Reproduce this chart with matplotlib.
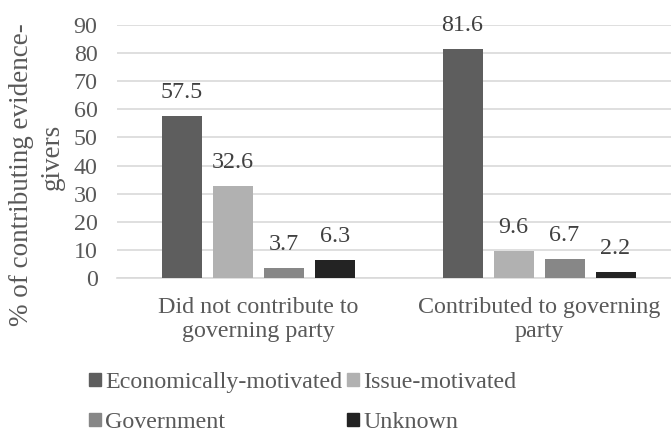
import matplotlib
matplotlib.use("Agg")
import matplotlib.pyplot as plt
from matplotlib.patches import Patch
import numpy as np

categories = ["Did not contribute to\ngoverning party", "Contributed to governing\nparty"]
series_names = ["Economically-motivated", "Issue-motivated", "Government", "Unknown"]
economic = [57.5, 81.6]
issue = [32.6, 9.6]
government = [3.7, 6.7]
unknown = [6.3, 2.2]
yticks = [0, 10, 20, 30, 40, 50, 60, 70, 80, 90]

colors = ["#5e5e5e", "#b1b1b1", "#878787", "#232323"]
text_color = "#595959"

plt.rcParams["font.family"] = ["Liberation Serif", "DejaVu Serif"]
FS = 17.3

W, H = 671, 434
fig = plt.figure(figsize=(W / 100, H / 100), dpi=100)
left, right = 117, 671
top, bottom = 25, 278
ax = fig.add_axes([left / W, 1 - bottom / H, (right - left) / W, (bottom - top) / H])

spacing_px = 280.5
x = np.arange(len(categories))
width = 40 / spacing_px
step = 51 / spacing_px
all_series = [economic, issue, government, unknown]
for i, (vals, name, c) in enumerate(zip(all_series, series_names, colors)):
    pos = x + (i - 1.5) * step
    ax.bar(pos, vals, width=width, color=c, label=name, zorder=3)
    for xb, v in zip(pos, vals):
        ax.annotate(f"{v:.1f}", (xb, v), xytext=(0, 13), textcoords="offset points",
                    ha="center", va="baseline", fontsize=FS, color="#404040")

x_left = (258.5 - left) / spacing_px
x_right = (right - 539) / spacing_px
ax.set_xlim(-x_left, 1 + x_right)
ax.set_ylim(0, 90)
ax.set_yticks(yticks)
ax.set_yticklabels([str(t) for t in yticks], fontsize=FS, color=text_color)
ax.set_xticks(x)
ax.set_xticklabels(categories, fontsize=FS, color=text_color, linespacing=1.15)
ax.tick_params(axis="y", length=0, pad=14)
ax.tick_params(axis="x", length=0, pad=14)
ax.grid(axis="y", color="#d9d9d9", linewidth=1.2, zorder=0)
for s in ["top", "right", "left"]:
    ax.spines[s].set_visible(False)
ax.spines["bottom"].set_color("#d9d9d9")
ax.spines["bottom"].set_linewidth(1.2)

fig.text(22 / W, 1 - 175 / H, "% of contributing evidence-", rotation=90,
         ha="center", va="center", fontsize=19.5, color=text_color)
fig.text(52 / W, 1 - 157 / H, "givers", rotation=90,
         ha="center", va="center", fontsize=19.5, color=text_color)

handles = [Patch(color=colors[0]), Patch(color=colors[2]), Patch(color=colors[1]), Patch(color=colors[3])]
labels = [series_names[0], series_names[2], series_names[1], series_names[3]]
leg = fig.legend(handles, labels, ncol=2, loc="upper left", bbox_to_anchor=(89 / W, 1 - 372 / H),
                 frameon=False, fontsize=FS, handlelength=0.49, handleheight=0.49,
                 handletextpad=0.18, columnspacing=0.2, labelspacing=0.8, borderpad=0, borderaxespad=0)
for t in leg.get_texts():
    t.set_color(text_color)

fig.savefig("out.png", dpi=100)
